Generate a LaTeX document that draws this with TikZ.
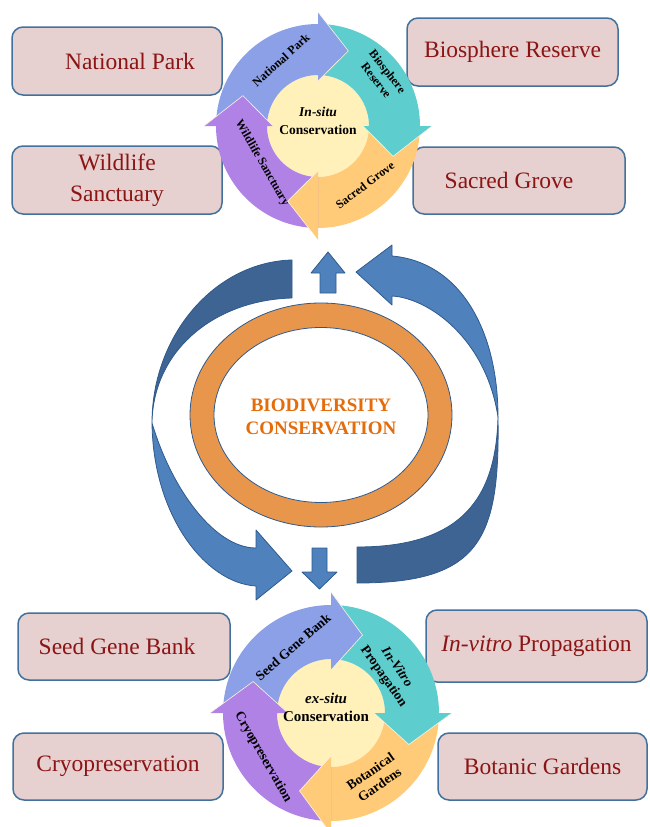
\documentclass[tikz,border=0pt]{standalone}
\usepackage{fontspec}
\setmainfont{Liberation Serif}
\definecolor{boxfill}{RGB}{230,208,208}
\definecolor{boxedge}{RGB}{65,113,156}
\definecolor{txtred}{RGB}{140,20,20}
\definecolor{bdark}{RGB}{62,100,148}
\definecolor{blight}{RGB}{79,129,189}
\definecolor{bedge}{RGB}{47,90,140}
\definecolor{ringor}{RGB}{232,150,75}
\definecolor{txtor}{RGB}{228,108,10}
\definecolor{cblue}{RGB}{139,160,230}
\definecolor{cteal}{RGB}{94,205,205}
\definecolor{corange}{RGB}{255,203,120}
\definecolor{cpurple}{RGB}{176,130,230}
\definecolor{cinner}{RGB}{255,241,185}
\definecolor{cedge}{RGB}{250,245,225}
\begin{document}
\begin{tikzpicture}[x=1pt,y=-1pt,
  box/.style={draw=boxedge, fill=boxfill, line width=1.5pt, rounded corners=11pt,
    inner sep=0pt, text=txtred, font=\fontsize{23.5}{31}\selectfont, align=center},
  ctext/.style={font=\bfseries\fontsize{12}{14.5}\selectfont, align=center, inner sep=0pt},
  btext/.style={font=\bfseries\fontsize{13.5}{16}\selectfont, align=center, inner sep=0pt},
  big/.style={draw=bedge, line width=0.8pt, line join=round}]
\useasboundingbox (0,0) rectangle (649,827);

% boxes
\node[box, minimum width=210, minimum height=68] (np) at (117,61) {\hspace*{26pt}National Park};
\node[box, minimum width=210, minimum height=68] (ws) at (117,180) {Wildlife\\Sanctuary};
\node[box, minimum width=211, minimum height=68] (br) at (512.5,52) {Biosphere Reserve};
\node[box, minimum width=212, minimum height=67] (sg) at (519,180.5) {Sacred Grove\hspace*{20pt}};
\node[box, minimum width=212, minimum height=67] (sgb) at (124,646.5) {Seed Gene Bank\hspace*{14pt}};
\node[box, minimum width=210, minimum height=67] (cry) at (118,766.5) {Cryopreservation};
\node[box, minimum width=221, minimum height=72] (iv) at (536.5,646) {\textit{In-vitro} Propagation};
\node[box, minimum width=209, minimum height=67] (bg) at (542.5,766.5) {Botanic Gardens};

% big curved arrows
\filldraw[big, fill=bdark] (292,260) .. controls (215,262) and (152,335) .. (152,423)
  .. controls (153,350) and (215,300) .. (292,298) -- cycle;
\filldraw[big, fill=blight] (152,423) .. controls (153,515) and (205,583) .. (256,586)
  -- (256,600) -- (292,571) -- (256,530) -- (256,548)
  .. controls (215,548) and (172,490) .. (152,423) -- cycle;
\filldraw[big, fill=blight] (498,417) .. controls (498,330) and (460,262) .. (392,256)
  -- (392,245) -- (356,272) -- (392,305) -- (392,296)
  .. controls (428,298) and (486,338) .. (498,417) -- cycle;
\filldraw[big, fill=bdark] (498,417) .. controls (500,540) and (480,583) .. (357,583)
  -- (357,547) .. controls (462,547) and (496,498) .. (498,417) -- cycle;

% ring
\filldraw[fill=ringor, draw=bedge, line width=0.8pt] (321,415) ellipse [x radius=131, y radius=112];
\filldraw[fill=white, draw=bedge, line width=0.8pt] (321,415) ellipse [x radius=107, y radius=87.5];
\node[font=\bfseries\fontsize{19}{23}\selectfont, text=txtor, align=center] (bio) at (321,417) {BIODIVERSITY\\CONSERVATION};

% small arrows
\filldraw[big, fill=blight] (320,293) -- (320,273) -- (311,273) -- (328,252) -- (345,273) -- (336,273) -- (336,293) -- cycle;
\filldraw[big, fill=blight] (312,548) -- (312,572) -- (302,572) -- (319.5,589) -- (337,572) -- (327,572) -- (327,548) -- cycle;

% top cycle
\begin{scope}[shift={(318,126)}, y=1pt]
  \fill[cinner] (0,0) circle[radius=51];
  \foreach \h/\c in {90/cblue,0/cteal,-90/corange,180/cpurple}{
    \pgfmathsetmacro\t{\h+90}
    \pgfmathsetmacro\e{\h-0.6}
    \fill[\c] (\t:51) arc[start angle=\t, end angle=\e, radius=51] -- (\e:102)
      arc[start angle=\e, end angle=\t, radius=102] -- cycle;
  }
  \foreach \h/\c in {90/cblue,0/cteal,-90/corange,180/cpurple}{
    \pgfmathsetmacro\p{\h-22}
    \path[fill=\c, draw=cedge, line width=0.6pt] (\h:114) -- (\p:81) -- (\h:45);
  }
\end{scope}
\node[ctext, rotate=42] (tnp) at (281,60) {National Park};
\node[ctext, rotate=-52] (tbr) at (382,76) {Biosphere\\Reserve};
\node[ctext, rotate=37] (tsg) at (365,185) {Sacred Grove};
\node[ctext, rotate=-60] (tws) at (262,163) {Wildlife Sanctuary};
\node[font=\bfseries\fontsize{13.5}{18}\selectfont, align=center] (tin) at (318,121) {\textit{In-situ}\\Conservation};

% bottom cycle
\begin{scope}[shift={(331,713)}, y=1pt]
  \fill[cinner] (0,0) circle[radius=54];
  \foreach \h/\c in {90/cblue,0/cteal,-90/corange,180/cpurple}{
    \pgfmathsetmacro\t{\h+90}
    \pgfmathsetmacro\e{\h-0.6}
    \fill[\c] (\t:54) arc[start angle=\t, end angle=\e, radius=54] -- (\e:108)
      arc[start angle=\e, end angle=\t, radius=108] -- cycle;
  }
  \foreach \h/\c in {90/cblue,0/cteal,-90/corange,180/cpurple}{
    \pgfmathsetmacro\p{\h-22}
    \path[fill=\c, draw=cedge, line width=0.6pt] (\h:121) -- (\p:84) -- (\h:43);
  }
\end{scope}
\node[btext, rotate=41] (tsgb) at (293,647) {Seed Gene Bank};
\node[btext, rotate=-55] (tiv) at (390,672) {\textit{In-Vitro}\\Propagation};
\node[btext, rotate=35] (tbg) at (375,778) {Botanical\\Gardens};
\node[btext, rotate=-60] (tcry) at (263,757) {Cryopreservation};
\node[font=\bfseries\fontsize{15}{18}\selectfont, align=center] (tex) at (326,707) {\textit{ex-situ}\\Conservation};
\end{tikzpicture}
\end{document}
